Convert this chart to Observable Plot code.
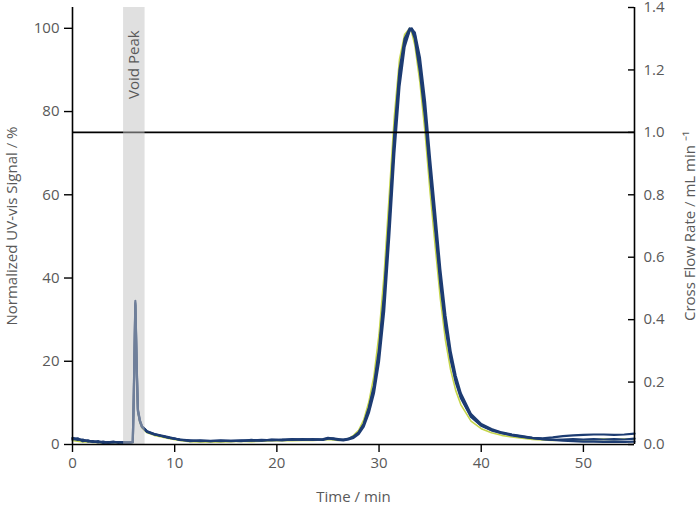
<!DOCTYPE html>
<html>
<head>
<meta charset="utf-8">
<script src="https://cdn.jsdelivr.net/npm/d3@7"></script>
<script src="https://cdn.jsdelivr.net/npm/@observablehq/plot@0.6"></script>
<style>
  html, body { margin: 0; padding: 0; background: #fff; }
</style>
</head>
<body>
<div id="chart"></div>
<script>
// Time axis (min), shared by all runs
const time = [
  0, 0.5, 1, 1.5, 2, 2.5, 3, 3.5, 4, 4.5, 5,
  5.5, 5.9, 6.0, 6.15, 6.3, 6.4, 6.6, 6.8, 7.3, 8, 8.6, 9.5,
  10.5, 11.5, 12.5, 13.5, 14.5, 15.5, 16.5, 17.5, 18.5, 19.5, 20.5, 21.5, 22.5, 23.5, 24.5, 25, 25.5, 26, 26.5, 27,
  27.5, 28, 28.5, 29, 29.5, 30, 30.5, 31, 31.5, 32, 32.5, 33, 33.2, 33.5, 34, 34.5, 35, 35.5, 36, 36.5, 37, 37.5, 38,
  39, 40, 41, 42, 43, 44, 45, 46, 47, 48, 49, 50, 51, 52, 53, 54, 55
];
// Normalized UV-vis signal (%) for each run
const runA = [
  1.6, 1.3, 1.0, 0.9, 0.7, 0.6, 0.5, 0.6, 0.5, 0.6, 0.5,
  0.5, 0.6, 12, 34, 17, 8, 5.5, 4.2, 3.0, 2.4, 2.1, 1.6,
  1.2, 1.0, 0.8, 0.9, 0.8, 0.9, 1.0, 0.9, 1.0, 1.1, 1.2, 1.1, 1.3, 1.2, 1.3, 1.5, 1.3, 1.2, 1.2, 1.3,
  1.8, 2.8, 4.8, 8.5, 13.5, 22, 35, 53, 73, 88.5, 96.5, 99.5, 100, 98.5, 91, 80, 66, 53, 40, 29, 21, 15.5, 11.5,
  6.8, 4.6, 3.5, 2.8, 2.3, 1.9, 1.6, 1.5, 1.7, 2.0, 2.2, 2.3, 2.4, 2.4, 2.3, 2.4, 2.6
];
const runB = [
  1.2, 1.5, 0.8, 1.0, 0.6, 0.8, 0.4, 0.5, 0.7, 0.4, 0.6,
  0.4, 0.5, 11, 33.5, 16.5, 8.5, 5.8, 4.4, 3.2, 2.5, 2.2, 1.7,
  1.1, 0.9, 0.9, 0.8, 0.9, 0.8, 0.9, 1.0, 1.1, 1.0, 1.1, 1.3, 1.2, 1.1, 1.2, 1.6, 1.4, 1.1, 1.0, 1.2,
  1.6, 2.5, 4.3, 7.6, 12.3, 20, 32, 50, 70, 86, 95.5, 99.5, 99.8, 99, 93, 82.5, 68.5, 55.5, 42, 31, 22.5, 16.5, 12.3,
  7.3, 4.9, 3.7, 2.9, 2.4, 2.0, 1.6, 1.3, 1.1, 0.9, 0.8, 0.7, 0.7, 0.6, 0.7, 0.6, 0.7
];
const runC = [
  1.4, 1.1, 1.2, 0.7, 0.8, 0.5, 0.7, 0.4, 0.5, 0.6, 0.4,
  0.5, 0.6, 12.5, 34.5, 17.5, 8.2, 5.6, 4.3, 3.1, 2.5, 2.1, 1.6,
  1.2, 0.8, 1.0, 0.8, 1.0, 0.9, 0.8, 1.1, 0.9, 1.2, 1.0, 1.2, 1.1, 1.3, 1.1, 1.4, 1.5, 1.3, 1.1, 1.4,
  1.9, 2.9, 5.0, 8.9, 14.2, 23, 36.5, 55, 75, 90, 97.5, 100, 99.6, 97.5, 89.5, 78.5, 64.5, 51.5, 38.5, 28, 20.5, 15, 11.2,
  6.6, 4.5, 3.4, 2.7, 2.2, 1.8, 1.5, 1.3, 1.1, 1.2, 1.3, 1.2, 1.3, 1.2, 1.3, 1.2, 1.4
];
const runD = [
  1.0, 0.8, 0.6, 0.7, 0.5, 0.5, 0.4, 0.4, 0.5, 0.4, 0.4,
  0.4, 0.5, 11, 33, 16, 7.8, 5.2, 4.0, 2.8, 2.2, 1.9, 1.4,
  1.0, 0.7, 0.6, 0.7, 0.6, 0.7, 0.8, 0.7, 0.8, 0.9, 1.0, 0.9, 1.0, 1.0, 1.1, 1.2, 1.1, 1.0, 1.1, 1.4,
  2.2, 3.4, 5.9, 10.2, 16.5, 26.5, 41, 60, 79, 92.5, 98.5, 100, 99, 96, 87, 75, 60.5, 47.5, 35, 25, 18, 13, 9.6,
  5.6, 3.8, 2.8, 2.2, 1.8, 1.5, 1.2, 1.1, 1.0, 1.1, 1.2, 1.1, 1.2, 1.3, 1.2, 1.3, 1.3
];
const blueRuns = { A: runA, B: runB, C: runC };
const greenRuns = { D: runD };

// Axes
const xTicks = [0, 10, 20, 30, 40, 50];
const yTicks = [0, 20, 40, 60, 80, 100];
const flowTicks = [0.0, 0.2, 0.4, 0.6, 0.8, 1.0, 1.2, 1.4];
const crossFlow = [1.0];          // mL/min
const voidRange = [5.0, 7.1];     // min
const voidLabel = ["Void Peak"];

const xDomain = [0, 55];
const yDomain = [0, 105];
const flowMax = 1.4;
const k = yDomain[1] / flowMax;   // flow -> signal units

function toRows(obj) {
  const rows = [];
  for (const [name, vals] of Object.entries(obj)) {
    vals.forEach((v, i) => rows.push({ series: name, time: time[i], value: v }));
  }
  return rows;
}
const blueRows = toRows(blueRuns);
const greenRows = toRows(greenRuns);

const grey = "#595959";
const fs = 15;
const chart = Plot.plot({
  width: 700,
  height: 506,
  marginLeft: 72,
  marginRight: 66,
  marginTop: 7,
  marginBottom: 62,
  style: { fontFamily: "'Open Sans', sans-serif", fontSize: "15px", background: "#fff" },
  x: { domain: xDomain },
  y: { domain: yDomain },
  marks: [
    Plot.line(greenRows, { x: "time", y: "value", z: "series", stroke: "#c5d54a", strokeWidth: 1.6 }),
    Plot.line(blueRows, { x: "time", y: "value", z: "series", stroke: "#1d3c72", strokeWidth: 2.2 }),
    Plot.ruleY(crossFlow.map(v => v * k), { stroke: "black", strokeWidth: 1.6 }),
    Plot.rect([voidRange], { x1: d => d[0], x2: d => d[1], fill: "#c1c1c1", fillOpacity: 0.5 }),
    Plot.text(voidLabel, { x: (voidRange[0] + voidRange[1]) / 2, y: 99.5, rotate: -90, textAnchor: "end", fill: grey, fontSize: 15 }),
    Plot.axisX({ ticks: xTicks, tickSize: 8, tickPadding: 5, stroke: "black", strokeWidth: 1.4, fill: grey, fontSize: fs,
      label: "Time / min", labelAnchor: "center", labelOffset: 57, labelArrow: "none" }),
    Plot.axisY({ ticks: yTicks, tickSize: 8, tickPadding: 5, stroke: "black", strokeWidth: 1.4, fill: grey, fontSize: fs,
      label: "Normalized UV-vis Signal / %", labelAnchor: "center", labelOffset: 66, labelArrow: "none" }),
    Plot.axisY({ anchor: "right", ticks: flowTicks.map(v => v * k), tickFormat: d => (d / k).toFixed(1),
      tickSize: 0, tickPadding: 9, fill: grey, fontSize: fs,
      label: "Cross Flow Rate / mL min \u207B\u00B9", labelAnchor: "center", labelOffset: 60, labelArrow: "none" }),
    Plot.tickY(flowTicks.map(v => v * k), { stroke: "black", strokeWidth: 1.4, insetLeft: 556 }),
    Plot.ruleX([xDomain[0]], { stroke: "black", strokeWidth: 1.6 }),
    Plot.ruleX([xDomain[1]], { stroke: "black", strokeWidth: 1.6 }),
    Plot.ruleY([yDomain[0]], { stroke: "black", strokeWidth: 1.6 })
  ]
});
document.getElementById("chart").appendChild(chart);
</script>
</body>
</html>
